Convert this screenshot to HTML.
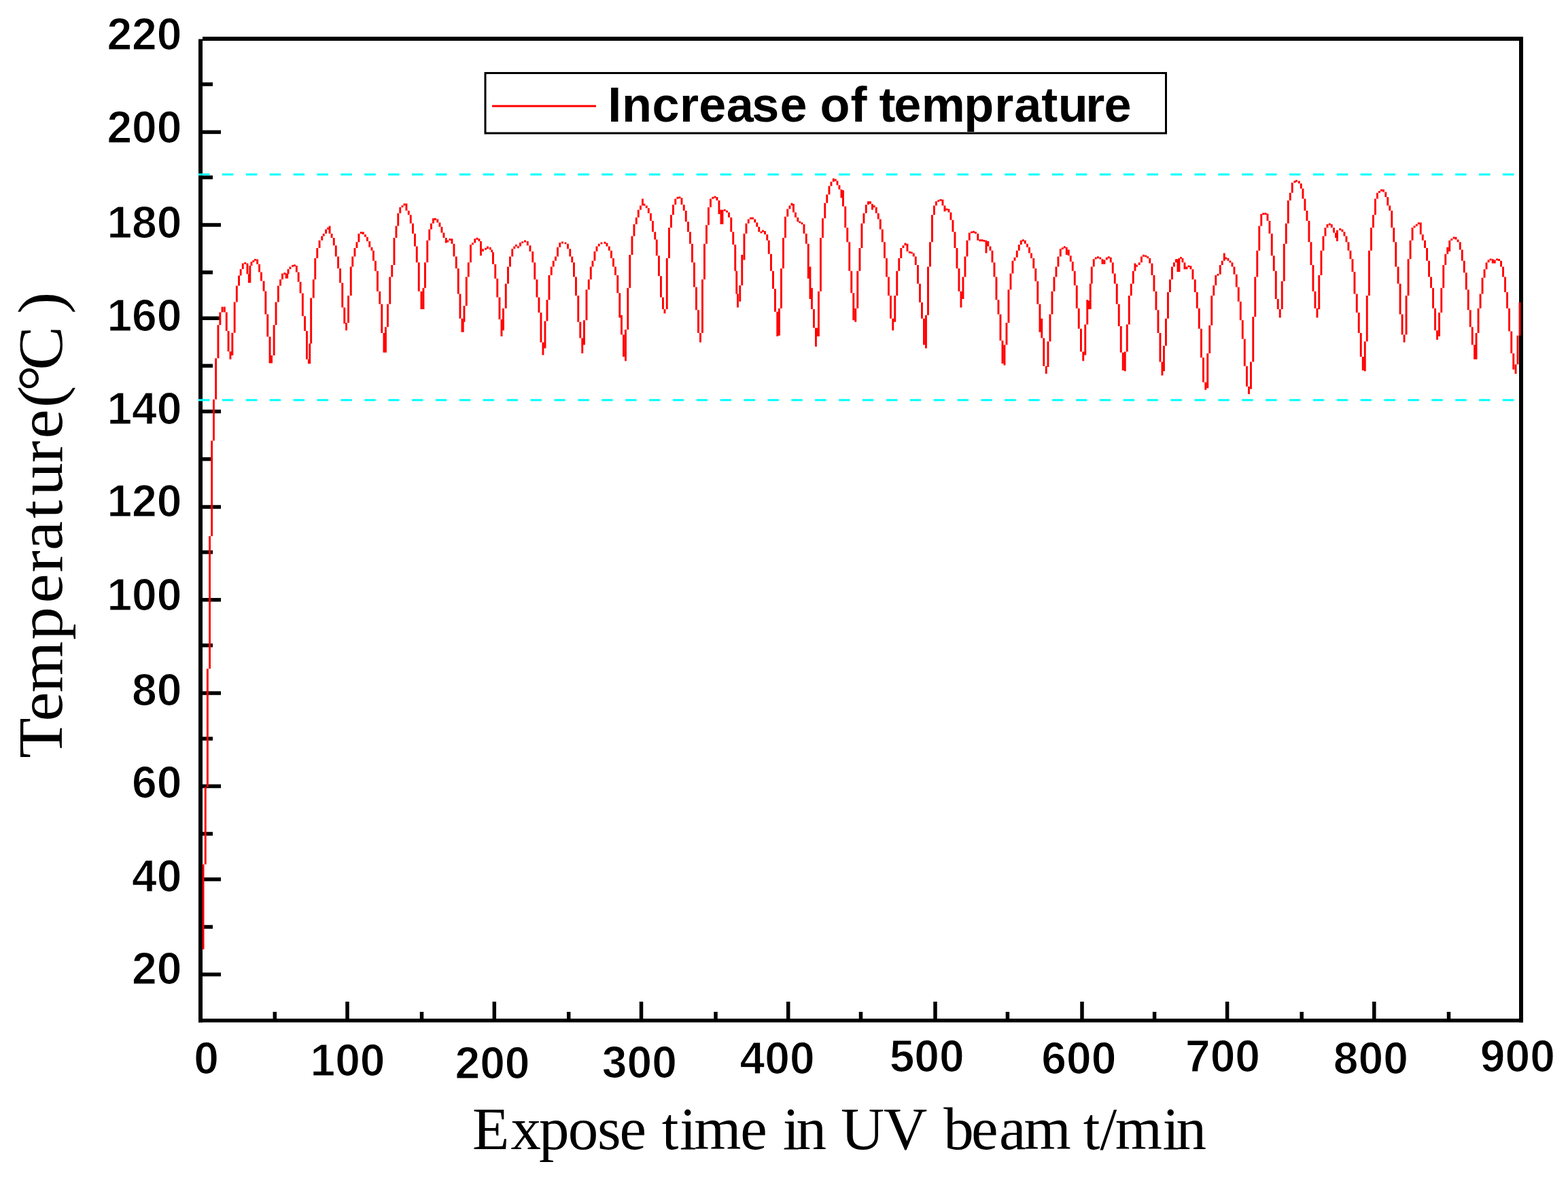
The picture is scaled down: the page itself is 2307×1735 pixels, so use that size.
<!DOCTYPE html>
<html><head><meta charset="utf-8"><title>Increase of temprature</title>
<style>html,body{margin:0;padding:0;background:#fff;width:2307px;height:1735px;overflow:hidden}svg{display:block}
.tl{font-family:"Liberation Sans",Arial,sans-serif;font-weight:bold;font-size:66px;fill:#000;stroke:#fff;stroke-width:1.2px}
.ti{font-family:"Liberation Serif","Times New Roman",serif;fill:#000}
</style></head><body>
<svg width="2307" height="1735" viewBox="0 0 2307 1735">
<rect x="0" y="0" width="2307" height="1735" fill="#fff"/>
<g fill="#000">
<rect x="292" y="57.5" width="6" height="1447"/>
<rect x="298" y="54" width="1943" height="6"/>
<rect x="2235" y="54" width="6" height="1450.5"/>
<rect x="292" y="1499" width="1949" height="5.5"/>
<rect x="298" y="191.65" width="27" height="5.5"/>
<rect x="298" y="328.25" width="27" height="5.5"/>
<rect x="298" y="465.55" width="27" height="5.5"/>
<rect x="298" y="602.75" width="27" height="5.5"/>
<rect x="298" y="743.25" width="27" height="5.5"/>
<rect x="298" y="879.95" width="27" height="5.5"/>
<rect x="298" y="1017.25" width="27" height="5.5"/>
<rect x="298" y="1154.25" width="27" height="5.5"/>
<rect x="298" y="1291.25" width="27" height="5.5"/>
<rect x="298" y="1431.25" width="27" height="5.5"/>
<rect x="298" y="121.25" width="15" height="5.5"/>
<rect x="298" y="258.25" width="15" height="5.5"/>
<rect x="298" y="398.05" width="15" height="5.5"/>
<rect x="298" y="535.55" width="15" height="5.5"/>
<rect x="298" y="672.85" width="15" height="5.5"/>
<rect x="298" y="809.85" width="15" height="5.5"/>
<rect x="298" y="946.95" width="15" height="5.5"/>
<rect x="298" y="1084.25" width="15" height="5.5"/>
<rect x="298" y="1224.25" width="15" height="5.5"/>
<rect x="298" y="1361.25" width="15" height="5.5"/>
<rect x="508.25" y="1474" width="5.5" height="25"/>
<rect x="724.55" y="1474" width="5.5" height="25"/>
<rect x="940.75" y="1474" width="5.5" height="25"/>
<rect x="1156.95" y="1474" width="5.5" height="25"/>
<rect x="1373.25" y="1474" width="5.5" height="25"/>
<rect x="1589.25" y="1474" width="5.5" height="25"/>
<rect x="1802.85" y="1474" width="5.5" height="25"/>
<rect x="2019.05" y="1474" width="5.5" height="25"/>
<rect x="401.55" y="1489" width="5.5" height="10"/>
<rect x="617.75" y="1489" width="5.5" height="10"/>
<rect x="833.95" y="1489" width="5.5" height="10"/>
<rect x="1050.25" y="1489" width="5.5" height="10"/>
<rect x="1263.75" y="1489" width="5.5" height="10"/>
<rect x="1479.65" y="1489" width="5.5" height="10"/>
<rect x="1695.85" y="1489" width="5.5" height="10"/>
<rect x="1912.45" y="1489" width="5.5" height="10"/>
<rect x="2128.75" y="1489" width="5.5" height="10"/>
</g>
<line x1="292" y1="256.8" x2="2234" y2="256.8" stroke="#00ffff" stroke-width="3" stroke-dasharray="16.5 18.39"/>
<line x1="292" y1="588.8" x2="2234" y2="588.8" stroke="#00ffff" stroke-width="3" stroke-dasharray="16.5 18.39"/>
<path d="M297.6 1272.0h2.9V1397.0h-2.9zM300.8 1158.0h2.9V1272.0h-2.9zM303.9 984.0h2.9V1158.0h-2.9zM307.1 789.0h2.9V984.0h-2.9zM310.2 648.6h2.9V789.0h-2.9zM313.0 587.8h2.9V648.6h-2.9zM316.2 527.3h2.9V587.8h-2.9zM319.5 478.2h2.9V527.3h-2.9zM322.4 459.5h2.9V478.2h-2.9zM325.6 451.6h2.9V459.5h-2.9zM328.9 451.6h2.9V459.5h-2.9zM331.8 459.5h2.9V486.9h-2.9zM334.6 486.9h2.9V517.2h-2.9zM337.5 517.2h2.9V528.7h-2.9zM340.4 489.8h2.9V522.9h-2.9zM343.7 444.4h2.9V489.8h-2.9zM346.9 420.6h2.9V444.4h-2.9zM350.1 405.4h2.9V420.6h-2.9zM352.7 396.0h2.9V405.4h-2.9zM355.8 387.4h2.9V396.0h-2.9zM359.2 385.9h2.9V388.8h-2.9zM362.5 387.4h2.9V403.3h-2.9zM364.9 403.3h2.9V416.2h-2.9zM366.4 391.0h2.9V416.2h-2.9zM368.5 385.2h2.9V391.0h-2.9zM371.4 383.1h2.9V386.0h-2.9zM374.0 380.9h2.9V383.8h-2.9zM377.2 381.6h2.9V388.8h-2.9zM380.1 388.8h2.9V400.4h-2.9zM383.0 400.4h2.9V413.4h-2.9zM386.6 413.4h2.9V428.5h-2.9zM389.4 428.5h2.9V462.4h-2.9zM392.3 462.4h2.9V495.5h-2.9zM395.6 495.5h2.9V534.5h-2.9zM398.1 522.9h2.9V534.5h-2.9zM401.7 478.2h2.9V522.9h-2.9zM404.6 444.4h2.9V478.2h-2.9zM407.9 420.6h2.9V444.4h-2.9zM411.1 411.2h2.9V420.6h-2.9zM414.0 402.5h2.9V411.2h-2.9zM417.3 401.1h2.9V404.0h-2.9zM419.7 402.5h2.9V409.7h-2.9zM421.2 403.3h2.9V409.7h-2.9zM422.6 396.0h2.9V403.3h-2.9zM425.5 392.4h2.9V396.0h-2.9zM429.1 389.9h2.9V392.8h-2.9zM432.0 389.2h2.9V392.1h-2.9zM434.9 391.0h2.9V400.4h-2.9zM437.7 400.4h2.9V414.8h-2.9zM440.6 414.8h2.9V431.4h-2.9zM443.9 431.4h2.9V465.3h-2.9zM447.1 465.3h2.9V486.9h-2.9zM450.0 486.9h2.9V528.7h-2.9zM452.9 528.7h2.9V535.2h-2.9zM454.3 505.6h2.9V535.2h-2.9zM456.2 438.6h2.9V505.6h-2.9zM459.8 411.2h2.9V438.6h-2.9zM462.3 380.0h2.9V411.2h-2.9zM465.3 365.0h2.9V380.0h-2.9zM468.6 353.8h2.9V365.0h-2.9zM472.3 347.5h2.9V353.8h-2.9zM474.8 343.8h2.9V347.5h-2.9zM478.1 337.5h2.9V343.8h-2.9zM481.1 334.8h2.9V337.7h-2.9zM483.6 332.5h2.9V343.8h-2.9zM486.6 343.8h2.9V350.0h-2.9zM489.8 350.0h2.9V361.2h-2.9zM492.8 361.2h2.9V377.5h-2.9zM496.1 377.5h2.9V395.0h-2.9zM499.1 395.0h2.9V416.2h-2.9zM502.3 416.2h2.9V452.5h-2.9zM505.3 452.5h2.9V476.2h-2.9zM508.1 475.0h2.9V486.2h-2.9zM511.1 435.0h2.9V475.0h-2.9zM514.8 392.5h2.9V435.0h-2.9zM517.3 377.5h2.9V392.5h-2.9zM520.5 365.0h2.9V377.5h-2.9zM523.5 356.2h2.9V365.0h-2.9zM526.5 343.8h2.9V356.2h-2.9zM529.8 341.1h2.9V343.9h-2.9zM532.8 341.2h2.9V345.0h-2.9zM536.0 345.0h2.9V348.8h-2.9zM539.0 348.8h2.9V355.0h-2.9zM542.3 355.0h2.9V363.8h-2.9zM545.5 363.8h2.9V368.8h-2.9zM548.0 368.8h2.9V383.8h-2.9zM551.0 383.8h2.9V398.8h-2.9zM554.0 398.8h2.9V428.8h-2.9zM557.3 428.8h2.9V447.5h-2.9zM560.3 447.5h2.9V490.0h-2.9zM563.5 490.0h2.9V518.8h-2.9zM566.0 481.2h2.9V518.8h-2.9zM569.0 447.5h2.9V481.2h-2.9zM572.3 407.5h2.9V447.5h-2.9zM575.3 390.0h2.9V407.5h-2.9zM578.5 350.0h2.9V390.0h-2.9zM581.5 332.5h2.9V350.0h-2.9zM584.3 313.8h2.9V332.5h-2.9zM587.3 305.0h2.9V313.8h-2.9zM590.5 302.3h2.9V305.2h-2.9zM593.5 299.5h2.9V302.5h-2.9zM596.5 299.5h2.9V310.0h-2.9zM599.8 310.0h2.9V316.2h-2.9zM602.8 316.2h2.9V328.8h-2.9zM606.0 328.8h2.9V343.8h-2.9zM609.0 343.8h2.9V362.5h-2.9zM611.8 362.5h2.9V386.2h-2.9zM614.8 386.2h2.9V428.8h-2.9zM618.5 428.8h2.9V455.0h-2.9zM621.5 423.8h2.9V455.0h-2.9zM624.0 386.2h2.9V423.8h-2.9zM627.3 353.8h2.9V386.2h-2.9zM630.3 337.5h2.9V353.8h-2.9zM633.0 328.8h2.9V337.5h-2.9zM636.0 321.2h2.9V328.8h-2.9zM639.0 321.1h2.9V323.9h-2.9zM642.3 322.5h2.9V327.5h-2.9zM645.5 327.5h2.9V333.8h-2.9zM648.5 333.8h2.9V342.5h-2.9zM651.5 342.5h2.9V350.0h-2.9zM654.8 350.0h2.9V357.5h-2.9zM657.3 353.6h2.9V356.4h-2.9zM660.5 351.1h2.9V353.9h-2.9zM663.5 351.2h2.9V358.8h-2.9zM666.5 358.8h2.9V377.5h-2.9zM669.8 377.5h2.9V395.0h-2.9zM672.8 395.0h2.9V432.5h-2.9zM675.5 432.5h2.9V468.8h-2.9zM678.5 468.8h2.9V488.8h-2.9zM679.8 473.8h2.9V488.8h-2.9zM681.5 450.0h2.9V473.8h-2.9zM684.8 407.5h2.9V450.0h-2.9zM687.8 386.2h2.9V407.5h-2.9zM691.0 360.0h2.9V386.2h-2.9zM694.0 357.3h2.9V360.2h-2.9zM697.3 351.2h2.9V357.5h-2.9zM700.5 349.8h2.9V352.7h-2.9zM703.5 351.2h2.9V355.0h-2.9zM706.0 355.0h2.9V376.2h-2.9zM709.0 366.2h2.9V370.0h-2.9zM713.0 364.8h2.9V367.7h-2.9zM716.0 362.5h2.9V366.2h-2.9zM719.8 363.8h2.9V367.5h-2.9zM722.3 367.5h2.9V371.2h-2.9zM724.0 371.2h2.9V388.8h-2.9zM727.3 388.8h2.9V410.0h-2.9zM730.3 410.0h2.9V437.5h-2.9zM733.5 437.5h2.9V470.0h-2.9zM736.5 470.0h2.9V495.0h-2.9zM739.0 453.8h2.9V486.2h-2.9zM742.8 417.5h2.9V453.8h-2.9zM746.0 392.5h2.9V417.5h-2.9zM749.0 377.5h2.9V392.5h-2.9zM752.3 366.2h2.9V377.5h-2.9zM755.3 362.5h2.9V366.2h-2.9zM758.0 359.8h2.9V362.7h-2.9zM761.0 362.3h2.9V365.2h-2.9zM764.0 357.0h2.9V362.5h-2.9zM767.3 355.2h2.9V358.1h-2.9zM771.0 353.6h2.9V356.4h-2.9zM774.8 355.0h2.9V361.2h-2.9zM778.5 361.2h2.9V370.0h-2.9zM782.3 370.0h2.9V386.2h-2.9zM785.3 386.2h2.9V411.2h-2.9zM788.5 411.2h2.9V437.5h-2.9zM791.5 437.5h2.9V460.0h-2.9zM794.5 460.0h2.9V503.8h-2.9zM797.5 503.8h2.9V522.5h-2.9zM800.5 472.5h2.9V512.5h-2.9zM803.5 441.2h2.9V472.5h-2.9zM806.5 405.0h2.9V441.2h-2.9zM809.8 392.5h2.9V405.0h-2.9zM812.8 383.8h2.9V392.5h-2.9zM816.0 377.5h2.9V383.8h-2.9zM819.0 363.8h2.9V377.5h-2.9zM822.3 357.0h2.9V363.8h-2.9zM826.0 355.6h2.9V358.4h-2.9zM830.5 356.4h2.9V359.3h-2.9zM834.0 358.8h2.9V366.2h-2.9zM837.3 366.2h2.9V377.5h-2.9zM840.3 377.5h2.9V386.2h-2.9zM843.0 386.2h2.9V407.5h-2.9zM846.0 407.5h2.9V435.0h-2.9zM849.3 435.0h2.9V473.8h-2.9zM852.3 473.8h2.9V497.5h-2.9zM855.3 497.5h2.9V520.0h-2.9zM858.0 471.2h2.9V507.5h-2.9zM861.5 426.2h2.9V471.2h-2.9zM864.8 411.2h2.9V426.2h-2.9zM867.8 392.5h2.9V411.2h-2.9zM870.5 383.8h2.9V392.5h-2.9zM873.5 370.0h2.9V383.8h-2.9zM876.5 362.5h2.9V370.0h-2.9zM879.8 358.8h2.9V362.5h-2.9zM883.5 356.4h2.9V359.3h-2.9zM888.5 355.8h2.9V358.7h-2.9zM891.5 357.5h2.9V362.5h-2.9zM894.8 362.5h2.9V368.8h-2.9zM898.0 368.8h2.9V380.0h-2.9zM901.0 380.0h2.9V392.5h-2.9zM904.0 392.5h2.9V405.0h-2.9zM907.3 405.0h2.9V431.2h-2.9zM910.3 431.2h2.9V467.5h-2.9zM913.0 463.8h2.9V492.5h-2.9zM916.0 492.5h2.9V525.0h-2.9zM919.0 485.0h2.9V531.2h-2.9zM922.3 423.8h2.9V485.0h-2.9zM925.3 375.0h2.9V423.8h-2.9zM928.5 347.5h2.9V375.0h-2.9zM931.5 330.0h2.9V347.5h-2.9zM934.8 320.0h2.9V330.0h-2.9zM937.8 308.8h2.9V320.0h-2.9zM941.0 302.5h2.9V308.8h-2.9zM944.0 292.5h2.9V302.5h-2.9zM946.5 299.8h2.9V302.7h-2.9zM949.8 302.5h2.9V306.2h-2.9zM952.8 306.2h2.9V313.8h-2.9zM956.0 313.8h2.9V325.0h-2.9zM959.0 325.0h2.9V341.2h-2.9zM962.3 341.2h2.9V352.5h-2.9zM964.8 352.5h2.9V376.2h-2.9zM968.0 376.2h2.9V406.2h-2.9zM971.0 406.2h2.9V437.5h-2.9zM974.0 437.5h2.9V455.0h-2.9zM976.5 455.0h2.9V461.2h-2.9zM979.8 380.0h2.9V455.0h-2.9zM983.0 335.0h2.9V380.0h-2.9zM986.0 316.2h2.9V335.0h-2.9zM989.0 301.2h2.9V316.2h-2.9zM992.3 292.5h2.9V301.2h-2.9zM995.5 289.8h2.9V292.7h-2.9zM998.5 289.2h2.9V292.1h-2.9zM1001.5 291.2h2.9V301.2h-2.9zM1004.8 301.2h2.9V310.0h-2.9zM1007.8 310.0h2.9V326.2h-2.9zM1011.0 326.2h2.9V341.2h-2.9zM1014.0 341.2h2.9V358.8h-2.9zM1017.0 358.8h2.9V386.2h-2.9zM1020.0 386.2h2.9V422.5h-2.9zM1023.0 422.5h2.9V456.2h-2.9zM1026.0 456.2h2.9V490.0h-2.9zM1029.0 490.0h2.9V503.8h-2.9zM1032.0 411.2h2.9V490.0h-2.9zM1035.0 358.8h2.9V411.2h-2.9zM1038.0 331.2h2.9V358.8h-2.9zM1041.0 305.0h2.9V331.2h-2.9zM1044.0 292.5h2.9V305.0h-2.9zM1047.3 289.8h2.9V292.7h-2.9zM1050.5 288.6h2.9V291.4h-2.9zM1053.5 290.0h2.9V295.0h-2.9zM1056.5 295.0h2.9V315.0h-2.9zM1059.5 308.8h2.9V330.0h-2.9zM1061.5 308.8h2.9V330.0h-2.9zM1064.8 307.9h2.9V310.8h-2.9zM1068.0 309.8h2.9V312.7h-2.9zM1071.0 312.5h2.9V320.0h-2.9zM1074.3 320.0h2.9V341.2h-2.9zM1077.3 341.2h2.9V360.0h-2.9zM1080.3 360.0h2.9V398.8h-2.9zM1082.3 398.8h2.9V432.5h-2.9zM1084.0 432.5h2.9V452.5h-2.9zM1087.3 420.0h2.9V443.8h-2.9zM1090.3 375.0h2.9V420.0h-2.9zM1093.5 343.8h2.9V382.5h-2.9zM1096.5 328.8h2.9V343.8h-2.9zM1099.8 322.5h2.9V328.8h-2.9zM1103.0 319.8h2.9V322.7h-2.9zM1106.0 319.8h2.9V322.7h-2.9zM1109.3 322.5h2.9V327.5h-2.9zM1112.3 327.5h2.9V333.8h-2.9zM1115.3 333.8h2.9V341.2h-2.9zM1118.5 340.4h2.9V343.3h-2.9zM1121.0 338.6h2.9V341.4h-2.9zM1124.0 340.0h2.9V345.0h-2.9zM1127.3 345.0h2.9V353.8h-2.9zM1129.8 353.8h2.9V373.8h-2.9zM1133.0 373.8h2.9V398.8h-2.9zM1136.0 398.8h2.9V425.0h-2.9zM1139.0 425.0h2.9V458.8h-2.9zM1142.3 458.8h2.9V495.0h-2.9zM1145.0 453.8h2.9V493.8h-2.9zM1148.0 395.0h2.9V453.8h-2.9zM1151.0 350.0h2.9V395.0h-2.9zM1154.0 318.8h2.9V350.0h-2.9zM1157.3 307.5h2.9V318.8h-2.9zM1160.5 302.5h2.9V307.5h-2.9zM1163.5 298.8h2.9V302.5h-2.9zM1166.0 300.0h2.9V312.5h-2.9zM1169.0 312.5h2.9V320.0h-2.9zM1172.3 320.0h2.9V326.2h-2.9zM1175.3 325.4h2.9V328.3h-2.9zM1178.5 327.3h2.9V330.2h-2.9zM1181.5 330.0h2.9V343.8h-2.9zM1184.8 343.8h2.9V358.8h-2.9zM1187.8 358.8h2.9V410.0h-2.9zM1190.5 392.5h2.9V440.0h-2.9zM1193.0 423.8h2.9V455.0h-2.9zM1196.0 455.0h2.9V482.5h-2.9zM1199.0 482.5h2.9V510.0h-2.9zM1201.5 482.5h2.9V495.0h-2.9zM1203.0 428.8h2.9V495.0h-2.9zM1206.0 350.0h2.9V428.8h-2.9zM1209.0 321.2h2.9V350.0h-2.9zM1212.3 298.8h2.9V321.2h-2.9zM1215.3 286.2h2.9V298.8h-2.9zM1218.5 273.8h2.9V286.2h-2.9zM1221.5 267.5h2.9V273.8h-2.9zM1224.8 262.5h2.9V267.5h-2.9zM1227.8 263.6h2.9V266.4h-2.9zM1230.5 266.2h2.9V272.5h-2.9zM1233.5 272.5h2.9V278.8h-2.9zM1236.5 278.8h2.9V291.2h-2.9zM1239.0 280.0h2.9V303.8h-2.9zM1242.3 303.8h2.9V335.0h-2.9zM1245.3 335.0h2.9V356.2h-2.9zM1248.3 356.2h2.9V398.8h-2.9zM1251.3 398.8h2.9V431.2h-2.9zM1254.3 431.2h2.9V471.2h-2.9zM1257.3 453.8h2.9V473.8h-2.9zM1260.3 398.8h2.9V453.8h-2.9zM1263.5 365.0h2.9V398.8h-2.9zM1266.5 328.8h2.9V365.0h-2.9zM1269.5 313.8h2.9V328.8h-2.9zM1272.8 301.2h2.9V313.8h-2.9zM1276.0 296.2h2.9V301.2h-2.9zM1279.0 296.2h2.9V300.0h-2.9zM1282.0 300.0h2.9V308.8h-2.9zM1284.8 302.3h2.9V305.2h-2.9zM1287.8 305.0h2.9V313.8h-2.9zM1290.8 313.8h2.9V322.5h-2.9zM1293.8 322.5h2.9V337.5h-2.9zM1296.8 337.5h2.9V356.2h-2.9zM1300.0 356.2h2.9V380.0h-2.9zM1303.0 380.0h2.9V407.5h-2.9zM1306.0 407.5h2.9V435.0h-2.9zM1309.0 435.0h2.9V468.8h-2.9zM1312.3 468.8h2.9V486.2h-2.9zM1315.3 435.0h2.9V473.8h-2.9zM1318.3 398.8h2.9V435.0h-2.9zM1321.3 380.0h2.9V398.8h-2.9zM1324.3 365.0h2.9V380.0h-2.9zM1327.5 361.2h2.9V365.0h-2.9zM1330.5 357.5h2.9V361.2h-2.9zM1333.5 358.8h2.9V370.0h-2.9zM1336.8 369.8h2.9V372.7h-2.9zM1339.8 370.4h2.9V373.3h-2.9zM1342.8 372.5h2.9V377.5h-2.9zM1345.8 377.5h2.9V390.0h-2.9zM1349.0 390.0h2.9V417.5h-2.9zM1352.0 417.5h2.9V445.0h-2.9zM1355.0 445.0h2.9V468.8h-2.9zM1358.0 468.8h2.9V507.5h-2.9zM1361.0 463.8h2.9V512.5h-2.9zM1364.0 392.5h2.9V463.8h-2.9zM1367.0 356.2h2.9V392.5h-2.9zM1370.0 316.2h2.9V356.2h-2.9zM1373.0 302.5h2.9V316.2h-2.9zM1376.0 296.2h2.9V302.5h-2.9zM1379.3 294.2h2.9V297.1h-2.9zM1382.5 292.9h2.9V295.8h-2.9zM1385.5 293.8h2.9V302.5h-2.9zM1388.5 302.5h2.9V311.2h-2.9zM1391.5 306.7h2.9V309.6h-2.9zM1394.5 307.5h2.9V312.5h-2.9zM1397.5 312.5h2.9V323.8h-2.9zM1400.5 323.8h2.9V341.2h-2.9zM1403.5 341.2h2.9V365.0h-2.9zM1406.5 365.0h2.9V395.0h-2.9zM1409.5 395.0h2.9V428.8h-2.9zM1412.5 428.8h2.9V452.5h-2.9zM1415.5 407.5h2.9V440.0h-2.9zM1418.5 377.5h2.9V407.5h-2.9zM1421.5 353.8h2.9V377.5h-2.9zM1424.8 342.5h2.9V353.8h-2.9zM1428.0 340.4h2.9V343.3h-2.9zM1431.0 339.8h2.9V342.7h-2.9zM1434.0 341.1h2.9V343.9h-2.9zM1437.3 343.8h2.9V353.8h-2.9zM1440.5 352.3h2.9V355.2h-2.9zM1443.5 352.3h2.9V355.2h-2.9zM1446.5 352.9h2.9V355.8h-2.9zM1449.5 353.8h2.9V372.5h-2.9zM1452.3 355.0h2.9V362.5h-2.9zM1455.5 362.5h2.9V368.8h-2.9zM1458.5 368.8h2.9V386.2h-2.9zM1461.5 386.2h2.9V407.5h-2.9zM1464.5 407.5h2.9V441.2h-2.9zM1467.5 441.2h2.9V462.5h-2.9zM1470.5 462.5h2.9V501.2h-2.9zM1473.5 501.2h2.9V535.0h-2.9zM1476.5 507.5h2.9V537.5h-2.9zM1479.5 475.0h2.9V507.5h-2.9zM1482.5 426.2h2.9V475.0h-2.9zM1485.5 402.5h2.9V426.2h-2.9zM1488.5 383.8h2.9V402.5h-2.9zM1491.5 378.8h2.9V383.8h-2.9zM1494.8 368.8h2.9V378.8h-2.9zM1497.8 360.0h2.9V368.8h-2.9zM1500.8 353.8h2.9V360.0h-2.9zM1503.8 352.3h2.9V355.2h-2.9zM1506.8 353.8h2.9V358.8h-2.9zM1510.0 358.8h2.9V363.8h-2.9zM1513.0 363.8h2.9V372.5h-2.9zM1516.0 372.5h2.9V380.0h-2.9zM1519.3 380.0h2.9V395.0h-2.9zM1522.3 395.0h2.9V413.8h-2.9zM1525.3 413.8h2.9V447.5h-2.9zM1528.5 447.5h2.9V488.8h-2.9zM1531.3 468.8h2.9V497.5h-2.9zM1534.3 497.5h2.9V538.8h-2.9zM1537.8 538.8h2.9V550.0h-2.9zM1540.5 502.5h2.9V540.0h-2.9zM1543.5 462.5h2.9V502.5h-2.9zM1546.5 428.8h2.9V462.5h-2.9zM1549.5 407.5h2.9V428.8h-2.9zM1552.5 392.5h2.9V407.5h-2.9zM1555.5 377.5h2.9V392.5h-2.9zM1558.8 366.2h2.9V377.5h-2.9zM1561.8 364.2h2.9V367.1h-2.9zM1564.8 362.3h2.9V365.2h-2.9zM1567.8 363.8h2.9V375.0h-2.9zM1570.8 367.5h2.9V376.2h-2.9zM1573.8 376.2h2.9V385.0h-2.9zM1576.8 385.0h2.9V398.8h-2.9zM1579.8 398.8h2.9V420.0h-2.9zM1582.8 420.0h2.9V453.8h-2.9zM1585.8 453.8h2.9V483.8h-2.9zM1589.0 483.8h2.9V517.5h-2.9zM1592.3 517.5h2.9V531.2h-2.9zM1595.3 477.5h2.9V522.5h-2.9zM1598.3 441.2h2.9V477.5h-2.9zM1600.5 442.5h2.9V455.0h-2.9zM1602.8 417.5h2.9V455.0h-2.9zM1604.8 392.5h2.9V417.5h-2.9zM1607.8 381.2h2.9V392.5h-2.9zM1610.8 378.6h2.9V381.4h-2.9zM1614.0 377.3h2.9V380.2h-2.9zM1617.3 378.6h2.9V381.4h-2.9zM1620.5 381.2h2.9V388.8h-2.9zM1623.5 382.5h2.9V388.8h-2.9zM1626.8 378.8h2.9V382.5h-2.9zM1629.8 377.3h2.9V380.2h-2.9zM1632.8 378.8h2.9V386.2h-2.9zM1635.8 386.2h2.9V402.5h-2.9zM1638.8 402.5h2.9V417.5h-2.9zM1641.8 417.5h2.9V447.5h-2.9zM1644.8 447.5h2.9V480.0h-2.9zM1647.8 480.0h2.9V518.8h-2.9zM1650.8 518.8h2.9V545.0h-2.9zM1653.8 517.5h2.9V546.2h-2.9zM1656.8 477.5h2.9V517.5h-2.9zM1659.8 435.0h2.9V477.5h-2.9zM1662.8 417.5h2.9V435.0h-2.9zM1665.8 398.8h2.9V417.5h-2.9zM1668.5 387.5h2.9V398.8h-2.9zM1671.0 389.8h2.9V392.7h-2.9zM1674.8 386.2h2.9V390.0h-2.9zM1678.0 377.5h2.9V386.2h-2.9zM1681.0 374.8h2.9V377.7h-2.9zM1684.3 375.4h2.9V378.3h-2.9zM1687.3 377.3h2.9V380.2h-2.9zM1690.3 380.0h2.9V387.5h-2.9zM1693.5 387.5h2.9V405.0h-2.9zM1696.5 405.0h2.9V428.8h-2.9zM1699.5 428.8h2.9V456.2h-2.9zM1702.5 456.2h2.9V490.0h-2.9zM1705.5 490.0h2.9V532.5h-2.9zM1708.5 532.5h2.9V552.5h-2.9zM1711.0 508.8h2.9V546.2h-2.9zM1714.0 468.8h2.9V508.8h-2.9zM1717.0 430.0h2.9V468.8h-2.9zM1720.0 411.2h2.9V430.0h-2.9zM1723.0 392.5h2.9V411.2h-2.9zM1726.0 386.2h2.9V392.5h-2.9zM1729.0 381.2h2.9V386.2h-2.9zM1731.5 381.2h2.9V400.0h-2.9zM1733.5 380.0h2.9V400.0h-2.9zM1736.0 377.9h2.9V380.8h-2.9zM1738.5 380.0h2.9V386.2h-2.9zM1741.5 386.2h2.9V396.2h-2.9zM1744.5 392.5h2.9V396.2h-2.9zM1747.5 390.4h2.9V393.3h-2.9zM1750.5 391.2h2.9V396.2h-2.9zM1753.5 396.2h2.9V411.2h-2.9zM1756.8 411.2h2.9V430.0h-2.9zM1759.8 430.0h2.9V453.8h-2.9zM1762.8 453.8h2.9V483.8h-2.9zM1766.0 483.8h2.9V526.2h-2.9zM1769.0 526.2h2.9V562.5h-2.9zM1772.3 562.5h2.9V573.8h-2.9zM1775.3 520.0h2.9V571.2h-2.9zM1778.3 478.8h2.9V520.0h-2.9zM1781.3 435.0h2.9V478.8h-2.9zM1784.3 420.0h2.9V435.0h-2.9zM1787.3 405.0h2.9V420.0h-2.9zM1790.5 402.9h2.9V405.8h-2.9zM1793.8 390.0h2.9V403.8h-2.9zM1796.8 383.8h2.9V390.0h-2.9zM1799.8 372.5h2.9V383.8h-2.9zM1802.3 378.6h2.9V381.4h-2.9zM1805.5 380.0h2.9V383.8h-2.9zM1808.5 383.6h2.9V386.4h-2.9zM1811.5 386.2h2.9V392.5h-2.9zM1814.5 392.5h2.9V403.8h-2.9zM1817.8 403.8h2.9V422.5h-2.9zM1820.8 422.5h2.9V443.8h-2.9zM1823.8 443.8h2.9V471.2h-2.9zM1826.8 471.2h2.9V498.8h-2.9zM1829.8 498.8h2.9V538.8h-2.9zM1833.0 538.8h2.9V568.8h-2.9zM1836.0 568.8h2.9V580.0h-2.9zM1839.0 532.5h2.9V572.5h-2.9zM1842.3 466.2h2.9V532.5h-2.9zM1845.3 407.5h2.9V466.2h-2.9zM1848.3 368.8h2.9V407.5h-2.9zM1851.3 332.5h2.9V368.8h-2.9zM1854.3 315.0h2.9V332.5h-2.9zM1857.3 313.3h2.9V316.2h-2.9zM1860.5 313.1h2.9V315.9h-2.9zM1863.5 314.5h2.9V325.0h-2.9zM1866.5 325.0h2.9V343.8h-2.9zM1869.8 343.8h2.9V376.2h-2.9zM1872.8 376.2h2.9V398.8h-2.9zM1875.8 398.8h2.9V440.0h-2.9zM1878.8 440.0h2.9V455.0h-2.9zM1881.8 455.0h2.9V467.5h-2.9zM1884.8 413.8h2.9V455.0h-2.9zM1887.8 358.8h2.9V413.8h-2.9zM1890.8 328.8h2.9V358.8h-2.9zM1893.8 295.0h2.9V328.8h-2.9zM1896.8 283.8h2.9V295.0h-2.9zM1899.8 268.8h2.9V283.8h-2.9zM1903.5 266.1h2.9V268.9h-2.9zM1906.0 264.8h2.9V267.7h-2.9zM1909.8 266.2h2.9V270.0h-2.9zM1912.8 270.0h2.9V277.5h-2.9zM1915.5 277.5h2.9V292.5h-2.9zM1918.5 292.5h2.9V310.0h-2.9zM1921.5 310.0h2.9V325.0h-2.9zM1924.5 325.0h2.9V356.2h-2.9zM1927.5 356.2h2.9V390.0h-2.9zM1930.5 390.0h2.9V428.8h-2.9zM1933.5 428.8h2.9V453.8h-2.9zM1936.5 453.8h2.9V467.5h-2.9zM1939.3 405.0h2.9V455.0h-2.9zM1942.5 368.8h2.9V405.0h-2.9zM1945.5 347.5h2.9V368.8h-2.9zM1948.5 335.0h2.9V347.5h-2.9zM1951.5 330.0h2.9V335.0h-2.9zM1954.8 328.6h2.9V331.4h-2.9zM1957.8 330.0h2.9V335.0h-2.9zM1961.0 335.0h2.9V342.5h-2.9zM1964.0 342.5h2.9V350.0h-2.9zM1966.0 338.8h2.9V355.0h-2.9zM1970.3 336.1h2.9V338.9h-2.9zM1973.5 337.5h2.9V341.2h-2.9zM1976.5 341.2h2.9V347.5h-2.9zM1979.5 347.5h2.9V356.2h-2.9zM1982.5 356.2h2.9V368.8h-2.9zM1985.5 368.8h2.9V381.2h-2.9zM1988.5 381.2h2.9V400.0h-2.9zM1991.5 400.0h2.9V432.5h-2.9zM1994.8 432.5h2.9V460.0h-2.9zM1997.8 460.0h2.9V490.0h-2.9zM2000.8 490.0h2.9V525.0h-2.9zM2003.8 525.0h2.9V545.0h-2.9zM2006.8 502.5h2.9V546.2h-2.9zM2009.8 435.0h2.9V502.5h-2.9zM2013.0 368.8h2.9V435.0h-2.9zM2016.0 335.0h2.9V368.8h-2.9zM2019.0 316.2h2.9V335.0h-2.9zM2022.0 292.5h2.9V316.2h-2.9zM2025.0 283.8h2.9V292.5h-2.9zM2028.0 281.1h2.9V283.9h-2.9zM2031.0 278.6h2.9V281.4h-2.9zM2034.0 278.8h2.9V282.5h-2.9zM2037.3 282.5h2.9V290.0h-2.9zM2040.3 290.0h2.9V302.5h-2.9zM2043.3 302.5h2.9V310.0h-2.9zM2046.3 310.0h2.9V335.0h-2.9zM2049.3 335.0h2.9V356.2h-2.9zM2052.3 356.2h2.9V392.5h-2.9zM2055.6 392.5h2.9V417.5h-2.9zM2058.6 417.5h2.9V462.5h-2.9zM2061.6 462.5h2.9V492.5h-2.9zM2064.6 492.5h2.9V503.8h-2.9zM2067.6 435.0h2.9V492.5h-2.9zM2070.6 381.2h2.9V435.0h-2.9zM2073.6 353.8h2.9V381.2h-2.9zM2076.6 335.0h2.9V353.8h-2.9zM2079.6 332.3h2.9V335.2h-2.9zM2082.8 329.8h2.9V332.7h-2.9zM2085.8 327.3h2.9V330.2h-2.9zM2088.8 327.5h2.9V345.0h-2.9zM2091.8 345.0h2.9V353.8h-2.9zM2095.1 353.8h2.9V365.0h-2.9zM2098.1 365.0h2.9V383.8h-2.9zM2101.1 383.8h2.9V407.5h-2.9zM2104.1 407.5h2.9V423.8h-2.9zM2107.1 423.8h2.9V453.8h-2.9zM2110.1 453.8h2.9V486.2h-2.9zM2113.1 486.2h2.9V500.0h-2.9zM2116.1 460.0h2.9V495.0h-2.9zM2119.3 423.8h2.9V460.0h-2.9zM2122.3 390.0h2.9V423.8h-2.9zM2125.3 373.8h2.9V390.0h-2.9zM2128.3 363.8h2.9V373.8h-2.9zM2131.3 353.8h2.9V370.0h-2.9zM2134.3 351.1h2.9V353.9h-2.9zM2137.6 348.6h2.9V351.4h-2.9zM2140.6 348.8h2.9V352.5h-2.9zM2143.6 352.5h2.9V356.2h-2.9zM2146.8 356.2h2.9V367.5h-2.9zM2149.8 367.5h2.9V383.8h-2.9zM2152.8 383.8h2.9V401.2h-2.9zM2155.8 401.2h2.9V426.2h-2.9zM2158.8 426.2h2.9V456.2h-2.9zM2161.8 456.2h2.9V481.2h-2.9zM2164.8 481.2h2.9V507.5h-2.9zM2168.1 507.5h2.9V528.8h-2.9zM2170.6 490.0h2.9V528.8h-2.9zM2173.6 453.8h2.9V490.0h-2.9zM2176.6 432.5h2.9V453.8h-2.9zM2179.6 408.8h2.9V432.5h-2.9zM2182.6 396.2h2.9V408.8h-2.9zM2185.6 386.2h2.9V396.2h-2.9zM2188.6 382.5h2.9V386.2h-2.9zM2191.6 380.4h2.9V383.3h-2.9zM2194.8 381.2h2.9V387.5h-2.9zM2197.8 382.5h2.9V387.5h-2.9zM2201.1 380.4h2.9V383.3h-2.9zM2204.1 381.1h2.9V383.9h-2.9zM2207.1 383.8h2.9V392.5h-2.9zM2210.1 392.5h2.9V407.5h-2.9zM2213.1 407.5h2.9V430.0h-2.9zM2216.1 430.0h2.9V453.8h-2.9zM2219.1 453.8h2.9V487.5h-2.9zM2222.3 487.5h2.9V520.0h-2.9zM2225.3 520.0h2.9V543.8h-2.9zM2228.6 536.2h2.9V550.0h-2.9zM2231.6 493.8h2.9V536.2h-2.9zM2234.6 445.0h2.9V493.8h-2.9z" fill="#ff0000"/>
<rect x="714" y="107.5" width="1001.5" height="88.5" fill="none" stroke="#000" stroke-width="3"/>
<rect x="724" y="154.6" width="153" height="3" fill="#ff0000"/>
<text x="894.2 915.1 959.5 1000.1 1028.2 1068.7 1106.3 1147.6 1187.6 1206.4 1251.4 1275.3 1293.6 1315.2 1355.8 1418.2 1463.3 1492.2 1532.3 1556.7 1597.2 1624.4" y="179" style="font-family:'Liberation Sans',Arial,sans-serif;font-weight:bold;font-size:72px" fill="#000">Increase of temprature</text>
<text class="tl" x="267.5" y="73.0" text-anchor="end">220</text>
<text class="tl" x="267.5" y="209.5" text-anchor="end">200</text>
<text class="tl" x="267.5" y="349.5" text-anchor="end">180</text>
<text class="tl" x="267.5" y="486.9" text-anchor="end">160</text>
<text class="tl" x="267.5" y="623.5" text-anchor="end">140</text>
<text class="tl" x="267.5" y="760.3" text-anchor="end">120</text>
<text class="tl" x="267.5" y="897.5" text-anchor="end">100</text>
<text class="tl" x="267.5" y="1037.5" text-anchor="end">80</text>
<text class="tl" x="267.5" y="1174.2" text-anchor="end">60</text>
<text class="tl" x="267.5" y="1311.9" text-anchor="end">40</text>
<text class="tl" x="267.5" y="1448.2" text-anchor="end">20</text>
<text class="tl" x="303.5" y="1579.5" text-anchor="middle">0</text>
<text class="tl" x="511.5" y="1583.0" text-anchor="middle">100</text>
<text class="tl" x="724.5" y="1586.5" text-anchor="middle">200</text>
<text class="tl" x="940.8" y="1586.4" text-anchor="middle">300</text>
<text class="tl" x="1143.6" y="1580.3" text-anchor="middle">400</text>
<text class="tl" x="1363.7" y="1577.2" text-anchor="middle">500</text>
<text class="tl" x="1587.3" y="1579.5" text-anchor="middle">600</text>
<text class="tl" x="1799.0" y="1576.6" text-anchor="middle">700</text>
<text class="tl" x="2016.8" y="1579.5" text-anchor="middle">800</text>
<text class="tl" x="2232.8" y="1576.6" text-anchor="middle">900</text>
<text class="ti" x="694.9 751.4 793.0 835.8 879.0 911.5 951.0 973.8 1000.1 1021.3 1089.3 1128.8 1151.8 1171.6 1216.1 1237.0 1299.9 1364.2 1388.2 1429.0 1469.9 1506.6 1575.9 1593.7 1618.6 1640.8 1710.4 1730.5" y="1690.6" font-size="89">Expose time in UV beam t/min</text>
<text class="ti" transform="translate(91.25 1114) rotate(-90) scale(1 0.95)" x="-1.8 52.4 94.8 172.2 226.5 271.5 304.1 351.1 384.4 433.0 468.5 513.9 538.0 569.2 633.9 652.1" y="0" font-size="97">Temperature(°C )</text>
</svg></body></html>
